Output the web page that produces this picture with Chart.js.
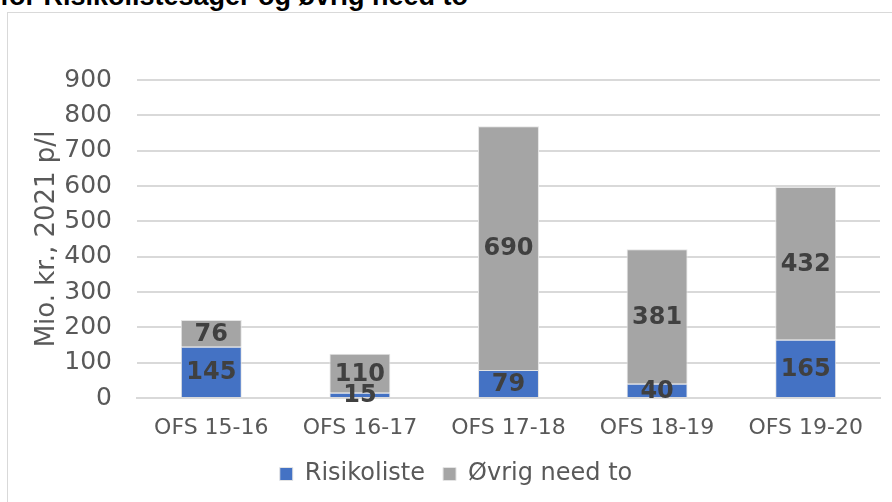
<!DOCTYPE html>
<html>
<head>
<meta charset="utf-8">
<script src="https://cdn.jsdelivr.net/npm/chart.js@4.4.0/dist/chart.umd.min.js"></script>
<style>
  body { margin: 0; background: #fff; overflow: hidden; }
  #ramme { position: absolute; left: 7px; top: 12px; width: 900px; height: 500px; border: 1px solid #d9d9d9; }
  #titel { position: absolute; left: 0; top: -19px; font: bold 27px "Liberation Sans", Arial, sans-serif; color: #000; white-space: nowrap; }
  #wrap { position: absolute; left: 0; top: 0; width: 892px; height: 502px; }
</style>
</head>
<body>
<div id="titel">for Risikolistesager og øvrig need to</div>
<div id="ramme"></div>
<div id="wrap"><canvas id="grafica"></canvas></div>
<script>
// data
const etiquetas = ['OFS 15-16', 'OFS 16-17', 'OFS 17-18', 'OFS 18-19', 'OFS 19-20'];
const risikoliste = [145, 15, 79, 40, 165];
const ovrigNeedTo = [76, 110, 690, 381, 432];
const yTicks = [0, 100, 200, 300, 400, 500, 600, 700, 800, 900];

// tal midt i hver søjle
const etiketter = {
  id: 'etiketter',
  afterDatasetsDraw(chart) {
    const ctx = chart.ctx;
    ctx.save();
    ctx.font = 'bold 24px "DejaVu Sans"';
    ctx.fillStyle = '#404040';
    ctx.textAlign = 'center';
    ctx.textBaseline = 'middle';
    chart.data.datasets.forEach((ds, i) => {
      chart.getDatasetMeta(i).data.forEach((bar, j) => {
        const midt = (bar.y + bar.base) / 2;
        ctx.fillText(ds.data[j], bar.x, midt + 1);
      });
    });
    ctx.restore();
  }
};

new Chart(document.getElementById('grafica'), {
  type: 'bar',
  data: {
    labels: etiquetas,
    datasets: [{
      label: 'Risikoliste',
      data: risikoliste,
      backgroundColor: '#4472C4',
      borderColor: '#e4e4e4',
      borderWidth: 1,
      barPercentage: 0.41,
      categoryPercentage: 1
    }, {
      label: 'Øvrig need to',
      data: ovrigNeedTo,
      backgroundColor: '#A5A5A5',
      borderColor: '#e4e4e4',
      borderWidth: 1,
      barPercentage: 0.41,
      categoryPercentage: 1
    }]
  },
  options: {
    responsive: true,
    maintainAspectRatio: false,
    animation: false,
    layout: { padding: { top: 80, right: 12, left: 32, bottom: 6 } },
    plugins: {
      tooltip: { enabled: false },
      legend: {
        position: 'bottom',
        labels: {
          color: '#595959',
          font: { family: 'DejaVu Sans', size: 24 },
          boxWidth: 13,
          boxHeight: 13,
          padding: 18
        }
      }
    },
    scales: {
      x: {
        stacked: true,
        afterFit: (axis) => { axis.height = 46; },
        grid: { display: false },
        border: { color: '#d9d9d9', width: 2 },
        ticks: { color: '#595959', font: { family: 'DejaVu Sans', size: 22 }, padding: 9 }
      },
      y: {
        stacked: true,
        min: 0,
        max: 900,
        afterBuildTicks: (axis) => { axis.ticks = yTicks.map(v => ({ value: v })); },
        afterFit: (axis) => { axis.width = 105; },
        grid: { color: '#d9d9d9', lineWidth: 2, drawTicks: false },
        border: { display: false },
        ticks: { color: '#595959', font: { family: 'DejaVu Sans', size: 25 }, padding: 25 },
        title: {
          display: true,
          text: 'Mio. kr., 2021 p/l',
          color: '#595959',
          font: { family: 'DejaVu Sans', size: 26 },
          padding: { top: 0, bottom: 0 }
        }
      }
    }
  },
  plugins: [etiketter]
});
</script>
</body>
</html>
